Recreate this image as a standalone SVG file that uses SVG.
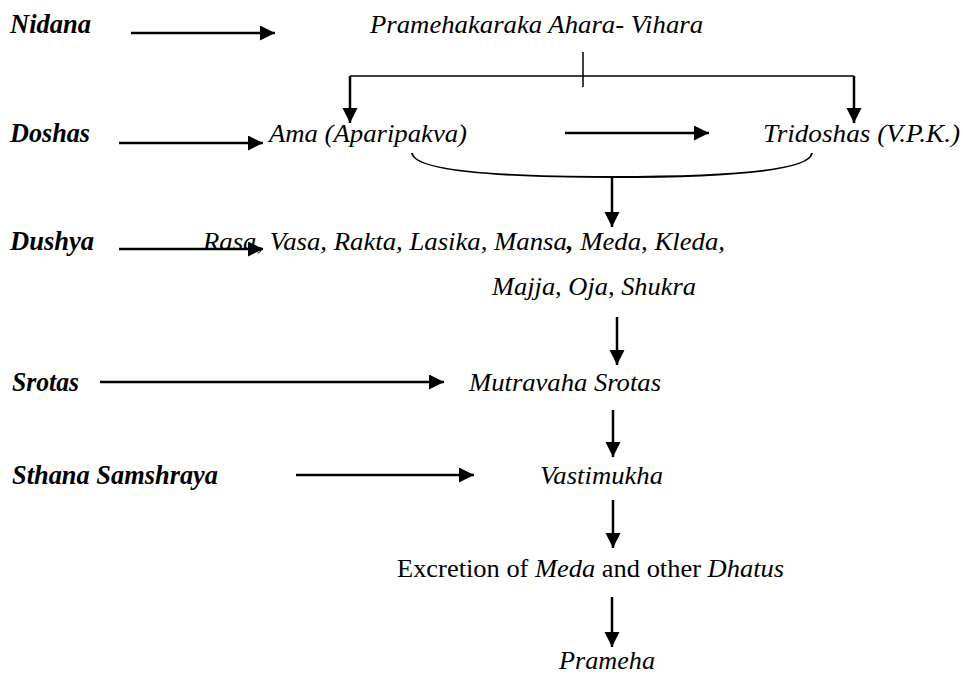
<svg xmlns="http://www.w3.org/2000/svg" width="963" height="675" viewBox="0 0 963 675">
<defs>
<marker id="ah" markerUnits="userSpaceOnUse" markerWidth="16" markerHeight="16" refX="15" refY="7.5" orient="auto">
<path d="M0,0 L15,7.5 L0,15 z" fill="#000"/>
</marker>
<style>
text{font-family:"Liberation Serif","Times New Roman",serif;fill:#000;font-size:26px}
.lbl{font-weight:bold;font-style:italic;font-size:27px}
.it{font-style:italic}
.arr{stroke:#000;stroke-width:2.5;fill:none;marker-end:url(#ah)}
.thin{stroke:#000;stroke-width:1.5;fill:none}
</style>
</defs>
<rect width="963" height="675" fill="#fff"/>
<g id="labels">
<g id="nidana"><text class="lbl" x="10" y="33" textLength="81" lengthAdjust="spacingAndGlyphs">Nidana</text></g>
<g id="doshas"><text class="lbl" x="10" y="142" textLength="80" lengthAdjust="spacingAndGlyphs">Doshas</text></g>
<g id="dushya"><text class="lbl" x="10" y="250" textLength="84" lengthAdjust="spacingAndGlyphs">Dushya</text></g>
<g id="srotas"><text class="lbl" x="12" y="391" textLength="67" lengthAdjust="spacingAndGlyphs">Srotas</text></g>
<g id="sthana"><text class="lbl" x="12" y="484" textLength="206" lengthAdjust="spacingAndGlyphs">Sthana Samshraya</text></g>
</g>
<g id="n-ahara"><text class="it" x="370" y="33" textLength="333" lengthAdjust="spacingAndGlyphs">Pramehakaraka Ahara- Vihara</text></g>
<g id="n-ama"><text class="it" x="269" y="142" textLength="198" lengthAdjust="spacingAndGlyphs">Ama (Aparipakva)</text></g>
<g id="n-tridoshas"><text class="it" x="763" y="142" textLength="197" lengthAdjust="spacingAndGlyphs">Tridoshas (V.P.K.)</text></g>
<g id="n-dhatus">
<text class="it" x="203" y="250" textLength="522" lengthAdjust="spacingAndGlyphs">Rasa, Vasa, Rakta, Lasika, Mansa<tspan font-weight="bold">,</tspan> Meda, Kleda,</text>
<text class="it" x="492" y="295" textLength="204" lengthAdjust="spacingAndGlyphs">Majja, Oja, Shukra</text>
</g>
<g id="n-mutravaha"><text class="it" x="469" y="391" textLength="192" lengthAdjust="spacingAndGlyphs">Mutravaha Srotas</text></g>
<g id="n-vastimukha"><text class="it" x="540" y="484" textLength="123" lengthAdjust="spacingAndGlyphs">Vastimukha</text></g>
<g id="n-excretion"><text x="397" y="577" textLength="387" lengthAdjust="spacingAndGlyphs">Excretion of <tspan font-style="italic">Meda</tspan> and other <tspan font-style="italic">Dhatus</tspan></text></g>
<g id="n-prameha"><text class="it" x="559" y="669" textLength="96" lengthAdjust="spacingAndGlyphs">Prameha</text></g>
<g id="connectors">
<line class="arr" x1="131" y1="33" x2="275" y2="33"/>
<line class="arr" x1="119" y1="143" x2="263" y2="143"/>
<line class="arr" x1="565" y1="133" x2="709" y2="133"/>
<line class="arr" x1="119" y1="249" x2="263" y2="249"/>
<line class="arr" x1="100" y1="382" x2="444" y2="382"/>
<line class="arr" x1="296" y1="475" x2="474" y2="475"/>
<line class="thin" x1="583" y1="52" x2="583" y2="87"/>
<line class="thin" x1="350" y1="76" x2="854" y2="76"/>
<line class="arr" x1="350" y1="76" x2="350" y2="123"/>
<line class="arr" x1="854" y1="76" x2="854" y2="123"/>
<path d="M412,153 C414,171 500,177 612,177 C724,177 810,171 812,153" stroke="#000" stroke-width="2" fill="none"/>
<line class="arr" x1="612" y1="177" x2="612" y2="227"/>
<line class="arr" x1="617" y1="317" x2="617" y2="365"/>
<line class="arr" x1="613" y1="410" x2="613" y2="457"/>
<line class="arr" x1="613" y1="500" x2="613" y2="548"/>
<line class="arr" x1="612" y1="597" x2="612" y2="647"/>
</g>
</svg>
